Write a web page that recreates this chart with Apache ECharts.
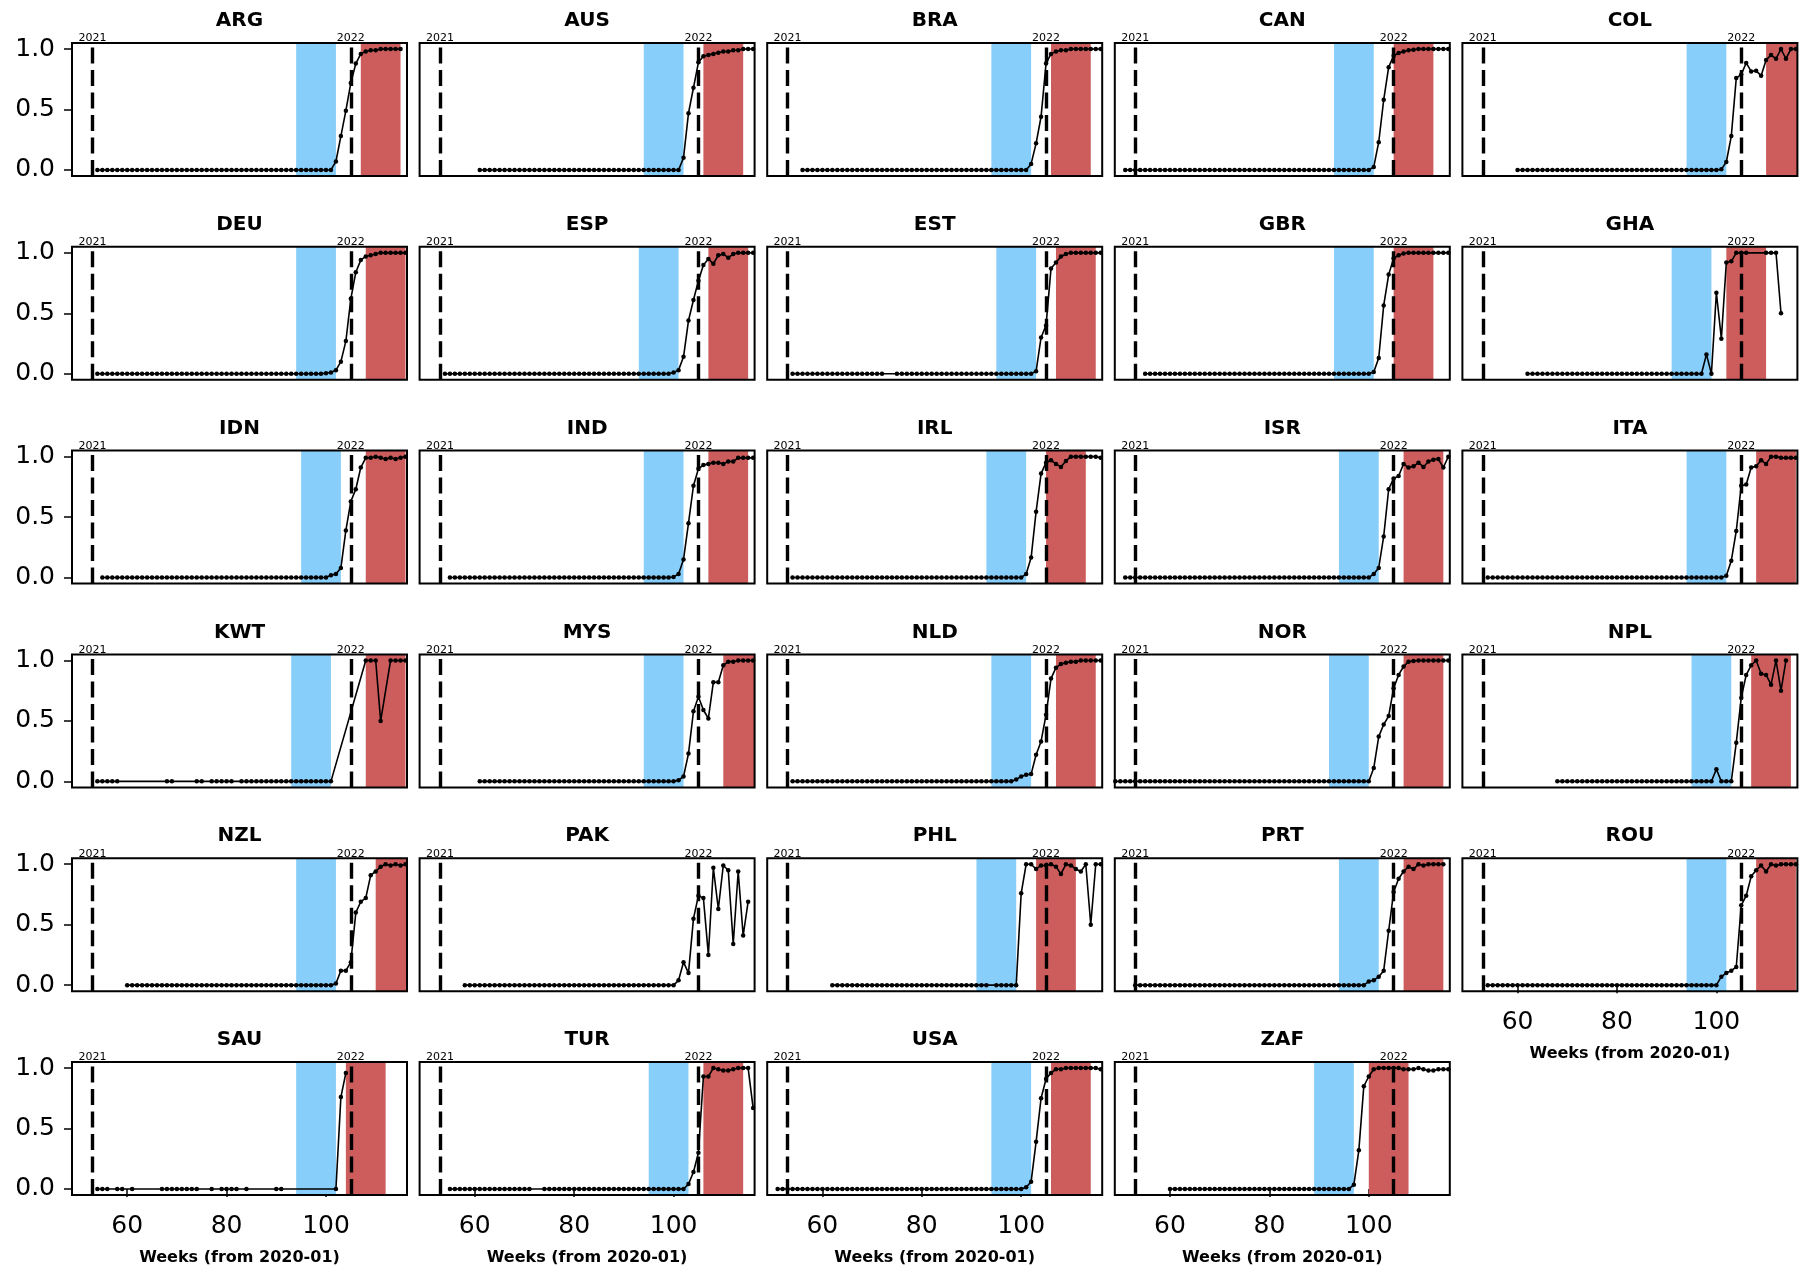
<!DOCTYPE html>
<html><head><meta charset="utf-8">
<script src="https://cdn.jsdelivr.net/npm/echarts@6/dist/echarts.min.js"></script>
<style>html,body{margin:0;padding:0;background:#fff}#c{width:1816px;height:1274px}</style>
</head><body><div id="c"></div>
<script>
// ---------------- DATA ----------------
const countries = ['ARG','AUS','BRA','CAN','COL','DEU','ESP','EST','GBR','GHA','IDN','IND','IRL','ISR','ITA','KWT','MYS','NLD','NOR','NPL','NZL','PAK','PHL','PRT','ROU','SAU','TUR','USA','ZAF'];
const startWeeks = [54,61,56,51,60,54,54,54,55,62,55,55,54,51,54,54,61,54,49,68,60,58,62,53,54,54,55,51,60];
const blueStart = [94,94,94,93,94,94,93,95,93,91,95,94,93,94,94,93,94,94,92,95,94,null,91,94,94,94,95,94,89];
const blueEnd   = [102,102,102,101,102,102,101,103,101,99,103,102,101,102,102,101,102,102,100,103,102,null,99,102,102,102,103,102,97];
const redStart  = [107,106,106,105,110,108,107,107,105,102,108,107,105,107,108,108,110,107,107,107,110,null,103,107,108,104,106,106,100];
const redEnd    = [115,114,114,113,118,116,115,115,113,110,116,115,113,115,116,116,118,115,115,115,118,null,111,115,116,112,114,114,108];
const yearLines = [53, 105];
const yearLabels = ['2021', '2022'];
const xTicks = [60, 80, 100];
const yTicks = [0, 0.5, 1];

const ARG = [0,0,0,0,0,0,0,0,0,0, 0,0,0,0,0,0,0,0,0,0, 0,0,0,0,0,0,0,0,0,0, 0,0,0,0,0,0,0,0,0,0, 0,0,0,0,0,0,0,0,
  0.07,0.28,0.49,0.72,0.88,0.96,0.98,0.99,0.99,1,1,1,1,1];
const AUS = [0,0,0,0,0,0,0,0,0,0, 0,0,0,0,0,0,0,0,0,0, 0,0,0,0,0,0,0,0,0,0, 0,0,0,0,0,0,0,0,0,0, 0,
  0.1,0.47,0.68,0.89,0.94,0.95,0.96,0.97,0.98,0.98,0.99,0.99,1,1,1];
const BRA = [0,0,0,0,0,0,0,0,0,0, 0,0,0,0,0,0,0,0,0,0, 0,0,0,0,0,0,0,0,0,0, 0,0,0,0,0,0,0,0,0,0, 0,0,0,0,0,0,
  0.05,0.22,0.44,0.88,0.96,0.98,0.99,0.99,1,1,1,1,1,1,1];
const CAN = [0,0,0,0,0,0,0,0,0,0, 0,0,0,0,0,0,0,0,0,0, 0,0,0,0,0,0,0,0,0,0, 0,0,0,0,0,0,0,0,0,0, 0,0,0,0,0,0,0,0,0,0,
  0.025,0.23,0.58,0.85,0.945,0.967,0.98,0.99,0.995,1,1,1,1,1,1,1];
const COL = [0,0,0,0,0,0,0,0,0,0, 0,0,0,0,0,0,0,0,0,0, 0,0,0,0,0,0,0,0,0,0, 0,0,0,0,0,0,0,0,0,0, 0,
  0.005,0.066,0.28,0.76,0.79,0.885,0.815,0.82,0.78,0.91,0.95,0.92,1,0.92,1,1];
const DEU = [0,0,0,0,0,0,0,0,0,0, 0,0,0,0,0,0,0,0,0,0, 0,0,0,0,0,0,0,0,0,0, 0,0,0,0,0,0,0,0,0,0, 0,0,0,0,0,0,
  0.005,0.01,0.03,0.1,0.27,0.62,0.84,0.94,0.97,0.98,0.99,1,1,1,1,1,1];
const ESP = [0,0,0,0,0,0,0,0,0,0, 0,0,0,0,0,0,0,0,0,0, 0,0,0,0,0,0,0,0,0,0, 0,0,0,0,0,0,0,0,0,0, 0,0,0,0,0,0,
  0.01,0.03,0.14,0.44,0.61,0.77,0.9,0.95,0.91,0.98,0.99,0.96,0.99,1,1,1,1];
const EST = [0,0,0,0,0,0,0,0,0,0, 0,0,0,0,0,0,0,0,0,null,null, 0,0,0,0,0,0,0,0,0,0, 0,0,0,0,0,0,0,0,0,0, 0,0,0,0,0,0,0,0,
  0.02,0.3,0.4,0.87,0.92,0.97,0.99,1,1,1,1,1,1,1];
const GBR = [0,0,0,0,0,0,0,0,0,0, 0,0,0,0,0,0,0,0,0,0, 0,0,0,0,0,0,0,0,0,0, 0,0,0,0,0,0,0,0,0,0, 0,0,0,0,0,0,
  0.014,0.13,0.565,0.82,0.955,0.98,0.995,1,1,1,1,1,1,1,1,1];
const GHA = [0,0,0,0,0,0,0,0,0,0, 0,0,0,0,0,0,0,0,0,0, 0,0,0,0,0,0,0,0,0,0, 0,0,0,0,0,0,
  0.16,0,0.67,0.29,0.92,0.93,1,1,1,null,null,null,1,1,1,0.5];
const IDN = [0,0,0,0,0,0,0,0,0,0, 0,0,0,0,0,0,0,0,0,0, 0,0,0,0,0,0,0,0,0,0, 0,0,0,0,0,0,0,0,0,0, 0,0,0,0,0,0,
  0.02,0.03,0.08,0.39,0.63,0.73,0.91,0.99,0.99,1,0.99,0.98,0.99,0.98,0.99,1];
const IND = [0,0,0,0,0,0,0,0,0,0, 0,0,0,0,0,0,0,0,0,0, 0,0,0,0,0,0,0,0,0,0, 0,0,0,0,0,0,0,0,0,0, 0,0,0,0,0,
  0.005,0.03,0.15,0.45,0.76,0.9,0.93,0.94,0.95,0.95,0.94,0.96,0.96,0.99,0.99,0.99,0.99];
const IRL = [0,0,0,0,0,0,0,0,0,0, 0,0,0,0,0,0,0,0,0,0, 0,0,0,0,0,0,0,0,0,0, 0,0,0,0,0,0,0,0,0,0, 0,0,0,0,0,0,0,
  0.03,0.165,0.545,0.86,0.95,0.97,0.94,0.915,0.965,1,1,1,1,1,1,0.99];
const ISR = [0,0,0,0,0,0,0,0,0,0, 0,0,0,0,0,0,0,0,0,0, 0,0,0,0,0,0,0,0,0,0, 0,0,0,0,0,0,0,0,0,0, 0,0,0,0,0,0,0,0,0,0,
  0.03,0.08,0.34,0.73,0.82,0.84,0.94,0.91,0.92,0.95,0.915,0.96,0.975,0.98,0.91,1];
const ITA = [0,0,0,0,0,0,0,0,0,0, 0,0,0,0,0,0,0,0,0,0, 0,0,0,0,0,0,0,0,0,0, 0,0,0,0,0,0,0,0,0,0, 0,0,0,0,0,0,0,0,
  0.014,0.14,0.385,0.76,0.77,0.91,0.92,0.97,0.94,1,1,0.99,0.99,0.99,0.99];
const KWT = [0,0,0,0,0, null,null,null,null,null,null,null,null,null, 0,0, null,null,null,null, 0,0, null, 0,0,0,0,0, null,
  0,0,0,0,0,0,0,0,0,0, 0,0,0,0,0,0,0,0,0, null,null,null,null,null,null,
  1,1,1,0.5,null,1,1,1,1];
const MYS = [0,0,0,0,0,0,0,0,0,0, 0,0,0,0,0,0,0,0,0,0, 0,0,0,0,0,0,0,0,0,0, 0,0,0,0,0,0,0,0,0,0,
  0.01,0.04,0.23,0.58,0.7,0.59,0.52,0.82,0.82,0.96,0.99,0.99,1,1,1,1];
const NLD = [0,0,0,0,0,0,0,0,0,0, 0,0,0,0,0,0,0,0,0,0, 0,0,0,0,0,0,0,0,0,0, 0,0,0,0,0,0,0,0,0,0, 0,0,0,0,0,
  0.016,0.04,0.055,0.06,0.22,0.33,0.55,0.85,0.94,0.97,0.98,0.99,0.99,1,1,1,1,1];
const NOR = [0,0,0,0,0,0,0,0,0,0, 0,0,0,0,0,0,0,0,0,0, 0,0,0,0,0,0,0,0,0,0, 0,0,0,0,0,0,0,0,0,0, 0,0,0,0,0,0,0,0,0,0, 0,0,
  0.11,0.37,0.47,0.54,0.77,0.88,0.95,0.99,0.995,1,1,1,1,1,1,1];
const NPL = [0,0,0,0,0,0,0,0,0,0, 0,0,0,0,0,0,0,0,0,0, 0,0,0,0,0,0,0,0,0,0, 0,0,
  0.1,0,0,0,0.32,0.69,0.88,0.96,1,0.89,0.88,0.8,1,0.75,1];
const NZL = [0,0,0,0,0,0,0,0,0,0, 0,0,0,0,0,0,0,0,0,0, 0,0,0,0,0,0,0,0,0,0, 0,0,0,0,0,0,0,0,0,0, 0,0,
  0.014,0.12,0.12,0.19,0.6,0.69,0.72,0.91,0.94,0.98,1,0.99,1,0.99,1];
const PAK = [0,0,0,0,0,0,0,0,0,0, 0,0,0,0,0,0,0,0,0,0, 0,0,0,0,0,0,0,0,0,0, 0,0,0,0,0,0,0,0,0,0, 0,0,0,
  0.04,0.19,0.1,0.55,0.74,0.72,0.25,0.97,0.63,0.99,0.95,0.34,0.94,0.41,0.69];
const PHL = [0,0,0,0,0,0,0,0,0,0, 0,0,0,0,0,0,0,0,0,0, 0,0,0,0,0,0,0,0,0,0, 0,0,null,0,0,0,0,0,
  0.76,1,1,0.96,0.99,0.99,1,0.98,0.92,1,0.99,0.96,0.94,1,0.5,1,1];
const PRT = [0,0,0,0,0,0,0,0,0,0, 0,0,0,0,0,0,0,0,0,0, 0,0,0,0,0,0,0,0,0,0, 0,0,0,0,0,0,0,0,0,0, 0,0,0,0,0,0,0,
  0.03,0.04,0.07,0.12,0.45,0.77,0.88,0.94,0.98,0.96,1,0.99,1,1,1,1];
const ROU = [0,0,0,0,0,0,0,0,0,0, 0,0,0,0,0,0,0,0,0,0, 0,0,0,0,0,0,0,0,0,0, 0,0,0,0,0,0,0,0,0,0, 0,0,0,0,0,0,0,
  0.07,0.1,0.12,0.15,0.66,0.74,0.9,0.95,0.99,0.94,1,0.99,1,1,1,1];
const SAU = [0,0,0,null,0,0,null,0, null,null,null,null,null, 0,0,0,0,0,0,0,0, null,null, 0, null, 0,0,0,0, null, 0,
  null,null,null,null,null, 0,0, null,null,null,null,null,null,null,null,null,null, 0,0.76,0.96];
const TUR = [0,0,0,0,0,0,0,0,0,0, 0,0,0,0,0,0,0,null,null, 0,0,0,0,0,0,0,0,0,0, 0,0,0,0,0,0,0,0,0,0, 0,0,0,0,0,0,0,0,0,
  0.04,0.14,0.3,0.93,0.93,1,0.99,0.98,0.98,0.99,1,1,1,0.67];
const USA = [0,0,0,0,0,0,0,0,0,0, 0,0,0,0,0,0,0,0,0,0, 0,0,0,0,0,0,0,0,0,0, 0,0,0,0,0,0,0,0,0,0, 0,0,0,0,0,0,0,0,0,0,
  0.014,0.06,0.39,0.75,0.91,0.96,0.99,0.99,1,1,1,1,1,1,1,0.99];
const ZAF = [0,0,0,0,0,0,0,0,0,0, 0,0,0,0,0,0,0,0,0,0, 0,0,0,0,0,0,0,0,0,0, 0,0,0,0,0,0,0,
  0.035,0.32,0.85,0.93,0.99,1,1,1,1,1,0.99,0.99,0.99,1,0.99,0.98,0.98,0.99,0.99,0.99];
const seriesValues = [ARG,AUS,BRA,CAN,COL,DEU,ESP,EST,GBR,GHA,IDN,IND,IRL,ISR,ITA,KWT,MYS,NLD,NOR,NPL,NZL,PAK,PHL,PRT,ROU,SAU,TUR,USA,ZAF];

// ---------------- LAYOUT ----------------
const XMIN = 48.9, XMAX = 116.3, YMIN = -0.05, YMAX = 1.05;
const LEFT0 = 72, DX = 347.6, W = 335;
const TOP0 = 43, DY = 203.8, H = 133;
const FONT = 'DejaVu Sans';

const grids = [], xAxes = [], yAxes = [], series = [], titles = [], graphics = [];
countries.forEach((name, i) => {
  const r = Math.floor(i / 5), c = i % 5;
  const left = LEFT0 + DX * c, top = TOP0 + DY * r;
  const isBottom = (r === 5) || (r === 4 && c === 4);
  const isLeft = c === 0;
  grids.push({left: left, top: top, width: W, height: H, containLabel: false});
  xAxes.push({
    gridIndex: i, type: 'value', min: XMIN, max: XMAX,
    axisLine: {show: false}, splitLine: {show: false},
    axisTick: {show: isBottom, length: 8, lineStyle: {color: '#000', width: 1.5}, customValues: xTicks},
    axisLabel: {show: isBottom, customValues: xTicks, fontSize: 25, color: '#000', margin: 19, fontFamily: FONT},
    name: isBottom ? 'Weeks (from 2020-01)' : '', nameLocation: 'middle', nameGap: 55,
    nameTextStyle: {fontWeight: 'bold', fontSize: 16, color: '#000', fontFamily: FONT}
  });
  yAxes.push({
    gridIndex: i, type: 'value', min: YMIN, max: YMAX,
    axisLine: {show: false}, splitLine: {show: false},
    axisTick: {show: isLeft, length: 8, lineStyle: {color: '#000', width: 1.5}, customValues: yTicks},
    axisLabel: {show: isLeft, customValues: yTicks, fontSize: 25, color: '#000', margin: 17, fontFamily: FONT,
      formatter: v => v.toFixed(1)}
  });
  const vals = seriesValues[i];
  const data = vals.map((v, k) => [startWeeks[i] + k, v === null ? '-' : v]);
  const areas = [];
  if (blueStart[i] !== null) {
    areas.push([{xAxis: blueStart[i], itemStyle: {color: '#87CEFA', opacity: 1}}, {xAxis: Math.min(blueEnd[i], XMAX)}]);
    areas.push([{xAxis: redStart[i], itemStyle: {color: '#CD5C5C', opacity: 1}}, {xAxis: Math.min(redEnd[i], XMAX)}]);
  }
  series.push({
    type: 'line', xAxisIndex: i, yAxisIndex: i, data: data,
    symbol: 'circle', symbolSize: 4.5, showSymbol: true, connectNulls: true,
    lineStyle: {color: '#000', width: 1.6}, itemStyle: {color: '#000'},
    emphasis: {disabled: true}, silent: true, animation: false,
    markArea: {silent: true, data: areas},
    markLine: {
      silent: true, symbol: ['none', 'none'],
      lineStyle: {type: [16, 6.5], width: 3.4, color: '#000'},
      label: {show: true, position: 'end', formatter: '{b}', fontSize: 11, color: '#000', distance: -1, fontFamily: FONT},
      data: yearLines.map((x, k) => ({xAxis: x, name: yearLabels[k]}))
    }
  });
  titles.push({
    text: name, left: left + W / 2, top: top - 32, textAlign: 'center', padding: 0,
    textStyle: {fontSize: 20, fontWeight: 'bold', color: '#000', fontFamily: FONT, lineHeight: 20}
  });
  graphics.push({
    type: 'rect', shape: {x: left, y: top, width: W, height: H},
    style: {fill: null, stroke: '#000', lineWidth: 2}, z: 100, silent: true
  });
});

const chart = echarts.init(document.getElementById('c'), null, {renderer: 'canvas'});
chart.setOption({
  animation: false,
  backgroundColor: '#fff',
  textStyle: {fontFamily: FONT},
  title: titles, grid: grids, xAxis: xAxes, yAxis: yAxes, series: series, graphic: graphics
});
</script></body></html>
